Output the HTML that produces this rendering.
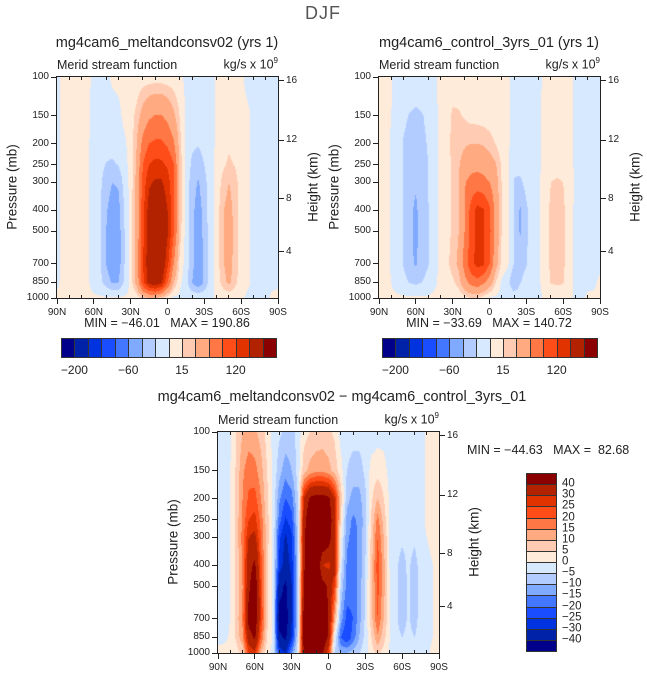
<!DOCTYPE html>
<html><head><meta charset="utf-8">
<style>
body{margin:0;background:#fff;}
#root{position:relative;width:647px;height:677px;overflow:hidden;background:#fff;font-family:"Liberation Sans",sans-serif;color:#222;}
.t{position:absolute;white-space:nowrap;line-height:1;}
canvas{position:absolute;}
.box{position:absolute;border:1px solid #222;box-sizing:border-box;}
.tick{position:absolute;background:#222;}
</style></head>
<body>
<div id="root">
<div class="t" style="left:305px;top:4px;font-size:18px;color:#555;letter-spacing:1px;">DJF</div>
</div>
<script>
// ---------- data ----------
const pLevels=[100,150,200,250,300,400,500,700,850,1000];
const lats=[90,85,80,75,70,65,60,55,50,45,40,35,30,25,20,15,10,5,0,-5,-10,-15,-20,-25,-30,-35,-40,-45,-50,-55,-60,-65,-70,-75,-80,-85,-90];
const latTickValues=[90,60,30,0,-30,-60,-90];
const latTickLabels=["90N","60N","30N","0","30S","60S","90S"];
const pTickValues=[100,150,200,250,300,400,500,700,850,1000];
const heightTickLabels=["16","12","8","4"];
const heightTickP=[104,193,356,619];
const levelsAbs=[-200,-150,-120,-90,-60,-30,-15,0,15,30,60,90,120,150,200];
const levelsAbsLabels=["-200","-60","15","120"];
const levelsDiff=[-40,-30,-25,-20,-15,-10,-5,0,5,10,15,20,25,30,40];
const levelsDiffLabels=["-40","-30","-25","-20","-15","-10","-5","0","5","10","15","20","25","30","40"];
const colors=["#00008a","#0022a8","#0033e0","#1a4dff","#4477ff","#80aaff","#b3ccff","#d6e9ff","#ffebd9","#ffccb3","#ffaa80","#ff7744","#ff4d1a","#e03300","#b32200","#8a0000"];

const field1=[
[-3,3,3,3,3,3,-3,-3,-3,2,3,3,4,5,6,6,6,6,5,4,3,-3,-3,-3,-3,-3,1,4,4,4,2,-3,-3,-3,-3,-3,-3],
[-3,3,3,3,3,2,-4,-5,-5,-5,-3,3,8,20,40,55,62,62,52,35,14,-2,-4,-5,-4,-3,1,4,5,5,3,2,-2,-3,-3,-3,-3],
[-3,3,3,3,3,2,-5,-7,-8,-8,-6,-2,5,30,70,90,95,95,85,65,20,-4,-12,-14,-10,-4,2,8,12,10,4,2,-2,-3,-3,-3,-3],
[-3,3,3,3,3,2,-5,-10,-16,-18,-14,-5,5,35,90,120,130,128,115,92,25,-5,-18,-22,-15,-5,3,12,18,14,5,2,-2,-3,-3,-3,-3],
[-3,3,3,3,3,2,-6,-12,-22,-30,-28,-8,5,38,100,145,155,155,135,95,25,-6,-22,-32,-20,-6,4,20,30,22,6,2,-2,-3,-3,-3,-3],
[-3,3,4,4,4,2,-6,-13,-28,-38,-36,-14,5,40,110,165,185,180,150,100,25,-6,-25,-38,-24,-6,5,28,38,24,6,2,-3,-4,-4,-4,-4],
[-3,3,4,4,4,2,-6,-13,-30,-40,-38,-15,5,40,110,170,188,185,155,95,22,-6,-25,-40,-25,-6,5,28,40,24,6,2,-3,-4,-4,-4,-4],
[-3,3,4,4,4,2,-6,-13,-30,-42,-38,-15,5,40,120,175,190,185,130,60,10,-6,-25,-42,-28,-6,5,28,38,24,6,2,-3,-4,-4,-4,-4],
[-2,3,4,4,4,2,-5,-10,-22,-32,-30,-12,5,40,110,165,180,160,90,30,3,-8,-30,-42,-28,-6,5,22,35,20,6,2,-2,-3,-3,-3,-2],
[2,2,2,2,2,2,2,2,2,2,2,2,2,5,20,30,30,20,5,-3,-3,-3,-3,-3,-3,-3,2,2,3,3,2,-2,-2,-3,-3,2,3]];
const field2=[
[3,3,1,-4,-5,-5,-5,-5,-4,-2,3,4,5,5,5,5,5,5,5,4,3,2,-3,-4,-4,-4,-3,3,4,4,4,3,-2,-3,-3,-3,-3],
[3,3,0,-6,-12,-16,-18,-16,-12,-4,3,6,18,17,13,9,8,7,6,5,3,2,-4,-5,-5,-4,-2,3,4,5,5,3,-2,-3,-3,-3,-3],
[3,3,-1,-8,-16,-20,-22,-18,-14,-4,3,8,20,22,27,30,30,28,22,14,6,2,-5,-6,-6,-4,-2,3,5,6,5,3,-2,-3,-3,-3,-3],
[3,3,-1,-8,-16,-24,-26,-20,-15,-4,3,8,18,28,42,50,52,50,42,32,12,2,-12,-10,-7,-4,-2,3,7,10,8,4,-2,-3,-3,-3,-3],
[3,3,-1,-8,-16,-25,-28,-20,-15,-4,3,8,18,30,58,70,72,68,60,40,14,2,-16,-18,-10,-5,-2,6,15,17,15,6,-2,-3,-3,-3,-3],
[3,3,-1,-8,-16,-26,-33,-22,-16,-4,3,8,18,30,62,100,130,122,95,50,14,2,-16,-32,-18,-6,-2,8,18,20,18,6,-3,-4,-4,-4,-4],
[3,3,-1,-8,-16,-26,-34,-22,-16,-4,3,8,18,30,62,100,132,125,98,50,14,2,-16,-32,-18,-6,-2,8,18,20,18,6,-3,-4,-4,-4,-4],
[3,3,-1,-8,-16,-26,-32,-22,-16,-4,3,10,22,35,75,110,130,125,90,40,10,2,-16,-20,-16,-6,-2,8,18,20,18,6,-3,-4,-4,-4,-4],
[3,3,0,-5,-10,-16,-18,-15,-10,-3,3,6,12,22,50,70,80,65,45,15,-3,-10,-30,-16,-10,-5,-2,5,16,18,16,4,-2,-3,-3,-3,3],
[2,2,2,2,2,2,2,2,2,3,3,3,3,4,10,15,15,8,-2,-3,-4,-4,-4,-4,-4,-4,-3,2,3,3,3,2,-2,-2,2,3,3]];
const field3=[
[-3,-3,-1,5,10,12,11,8,3,-2,-4,-6,-7,-3,3,5,6,7,6,4,-2,-3,-3,-3,-3,-3,-2,-2,-3,-3,-3,-3,-3,-2,1,2,2],
[-3,-2,0,6,14,18,17,12,5,-1,-8,-13,-10,-3,8,12,14,14,12,8,2,-5,-7,-7,-4,2,3,2,-2,-3,-3,-3,-3,-2,1,2,2],
[-3,-2,0,7,15,21,22,15,6,-1,-14,-20,-17,-5,30,42,44,44,42,30,8,-8,-12,-12,-6,4,10,5,-1,-3,-3,-3,-3,-2,1,2,1],
[-3,-2,0,7,16,25,27,18,7,-1,-18,-26,-22,-6,35,50,52,50,48,32,5,-12,-16,-14,-7,6,17,8,-1,-3,-3,-3,-3,-2,1,1,1],
[-3,-2,0,7,17,30,32,20,7,-1,-24,-31,-26,-7,38,52,55,52,46,30,2,-14,-17,-14,-6,7,20,10,-1,-3,-4,-3,-4,-2,0,1,1],
[-3,-2,0,6,16,36,42,22,6,-1,-26,-34,-28,-8,38,55,55,30,28,35,-2,-16,-17,-14,-5,8,23,12,-1,-4,-7,-4,-7,-3,-1,0,1],
[-3,-2,0,6,15,38,48,24,6,-1,-36,-42,-30,-8,40,56,55,45,38,25,-6,-17,-18,-13,-4,8,22,12,0,-4,-8,-4,-8,-3,-1,0,1],
[-3,-2,0,7,16,44,48,25,6,-1,-44,-46,-30,-8,45,58,56,50,40,12,-12,-22,-20,-12,-4,8,20,10,0,-4,-8,-4,-8,-2,-1,0,0],
[-3,-2,1,6,14,35,42,20,5,-1,-38,-42,-28,-5,45,55,55,50,38,0,-20,-25,-18,-10,-3,5,14,7,0,-3,-5,-3,-5,-2,-1,0,0],
[3,3,2,3,6,25,28,10,2,-2,-25,-30,-15,-2,42,50,48,42,25,-6,-10,-10,-8,-5,-2,3,6,3,-1,-2,-2,-2,-2,-2,-1,1,3]];

// ---------- drawing ----------
const root=document.getElementById('root');
function txt(name,s,x,y,size,opts){
  const d=document.createElement('div');
  d.className='t';
  
  
  d.innerHTML=s;
  d.style.fontSize=size+'px';
  d.style.left=x+'px';d.style.top=y+'px';
  let tf='';
  const a=(opts&&opts.align)||'left';
  if(a==='center')tf+='translate(-50%,-50%) ';
  else if(a==='right')tf+='translate(-100%,-50%) ';
  else tf+='translate(0,-50%) ';
  if(opts&&opts.rot)tf+='rotate('+opts.rot+'deg)';
  d.style.transform=tf;
  if(opts&&opts.color)d.style.color=opts.color;
  root.appendChild(d);return d;
}
function tick(name,x,y,w,h){
  const d=document.createElement('div');d.className='tick';
  
  
  d.style.left=x+'px';d.style.top=y+'px';d.style.width=w+'px';d.style.height=h+'px';
  root.appendChild(d);
}
function hexRgb(h){return [parseInt(h.substr(1,2),16),parseInt(h.substr(3,2),16),parseInt(h.substr(5,2),16)];}
const rgb=colors.map(hexRgb);

function panel(o){
  const W=221,H=221,X=o.x,Y=o.y;
  const xOf=lat=>X+(90-lat)/180*W;
  const yOf=p=>Y+Math.log10(p/100)*H;
  const cv=document.createElement('canvas');
  
  
  cv.width=W;cv.height=H;cv.style.left=X+'px';cv.style.top=Y+'px';
  root.appendChild(cv);
  const ctx=cv.getContext('2d');const img=ctx.createImageData(W,H);
  const lp=pLevels.map(p=>Math.log10(p));
  const f=o.field,lev=o.levels;
  for(let j=0;j<H;j++){
    const l=Math.log10(100)+(j+0.5)/H;
    let r=0;while(r<lp.length-2&&l>lp[r+1])r++;
    let ty=(l-lp[r])/(lp[r+1]-lp[r]);ty=Math.max(0,Math.min(1,ty));
    for(let i=0;i<W;i++){
      const lat=90-(i+0.5)/W*180;
      let fx=(lats[0]-lat)/(lats[0]-lats[lats.length-1])*(lats.length-1);
      let c=Math.min(lats.length-2,Math.floor(fx));let tx=fx-c;
      const v=(f[r][c]*(1-tx)+f[r][c+1]*tx)*(1-ty)+(f[r+1][c]*(1-tx)+f[r+1][c+1]*tx)*ty;
      let k=0;while(k<lev.length&&v>=lev[k])k++;
      const cc=rgb[k];const q=(j*W+i)*4;
      img.data[q]=cc[0];img.data[q+1]=cc[1];img.data[q+2]=cc[2];img.data[q+3]=255;
    }
  }
  ctx.putImageData(img,0,0);
  const b=document.createElement('div');b.className='box';
  
  
  b.style.left=(X-1)+'px';b.style.top=(Y-1)+'px';b.style.width=(W+2)+'px';b.style.height=(H+2)+'px';
  root.appendChild(b);
  // titles
  if(o.title)txt(o.key+'-title',o.title,o.titleX,o.titleY,14.5,{align:'center'});
  txt(o.key+'-left-subtitle','Merid stream function',X,Y-12,12.5);
  txt(o.key+'-units','kg/s x 10<sup style="font-size:8px">9</sup>',X+W,Y-13,12.5,{align:'right'});
  // pressure ticks
  pTickValues.forEach((p,i)=>{
    tick(o.key+'-y-tick',X-6,yOf(p)-0.5,6,1);
    txt(o.key+'-y-tick-label',String(p),X-8,yOf(p),10,{align:'right'});
  });
  txt(o.key+'-y-axis-title','Pressure (mb)',X-45,Y+110,13.5,{align:'center',rot:-90});
  heightTickP.forEach((p,i)=>{
    tick(o.key+'-height-tick',X+W,yOf(p)-0.5,6,1);
    txt(o.key+'-height-tick-label',heightTickLabels[i],X+W+8,yOf(p),10);
  });
  txt(o.key+'-height-axis-title','Height (km)',X+W+35,Y+110,13.5,{align:'center',rot:-90});
  latTickValues.forEach((lat,i)=>{
    tick(o.key+'-x-tick',xOf(lat)-0.5,Y+H,1,6);
    txt(o.key+'-x-tick-label',latTickLabels[i],xOf(lat),Y+H+15,10,{align:'center'});
  });
  for(let lat=80;lat>-90;lat-=10){ if(lat%30!==0){
    tick(o.key+'-x-minor-tick',xOf(lat)-0.5,Y+H-3,1,3);
    tick(o.key+'-top-minor-tick',xOf(lat)-0.5,Y,1,3);}}
}
function hbar(key,x,y,w,h){
  const bw=w/colors.length;
  colors.forEach((c,i)=>{
    const d=document.createElement('div');
    
    
    d.style.cssText='position:absolute;box-sizing:border-box;border:1px solid #333;left:'+(x+i*bw)+'px;top:'+y+'px;width:'+(bw+1)+'px;height:'+h+'px;background:'+c;
    root.appendChild(d);
  });
  const idx=[1,5,9,13];
  levelsAbsLabels.forEach((s,i)=>txt(key+'-label',s.replace('-','&minus;'),x+idx[i]*bw,y+h+12,12,{align:'center'}));
}

panel({key:'panel1',x:57,y:77,field:field1,levels:levelsAbs,title:'mg4cam6_meltandconsv02 (yrs 1)',titleX:167,titleY:43});
txt('panel1-minmax','MIN = &minus;46.01&nbsp;&nbsp; MAX = 190.86',167,323,12.5,{align:'center'});
hbar('panel1-colorbar',61,338,215,20);

panel({key:'panel2',x:379,y:77,field:field2,levels:levelsAbs,title:'mg4cam6_control_3yrs_01 (yrs 1)',titleX:489,titleY:43});
txt('panel2-minmax','MIN = &minus;33.69&nbsp;&nbsp; MAX = 140.72',489,323,12.5,{align:'center'});
hbar('panel2-colorbar',382,338,215,20);

panel({key:'panel3',x:218,y:432,field:field3,levels:levelsDiff,title:'mg4cam6_meltandconsv02 &minus; mg4cam6_control_3yrs_01',titleX:342,titleY:397});
txt('panel3-minmax','MIN = &minus;44.63&nbsp;&nbsp; MAX = &nbsp;82.68',467,450,12.5);
// vertical colorbar
(function(){
  const x=526,y=473,w=31,h=178,bh=h/colors.length;
  for(let i=0;i<colors.length;i++){
    const c=colors[colors.length-1-i];
    const d=document.createElement('div');
    
    
    d.style.cssText='position:absolute;box-sizing:border-box;border:1px solid #333;left:'+x+'px;top:'+(y+i*bh)+'px;width:'+w+'px;height:'+(bh+1)+'px;background:'+c;
    root.appendChild(d);
  }
  for(let k=0;k<levelsDiffLabels.length;k++){
    const s=levelsDiffLabels[levelsDiffLabels.length-1-k];
    txt('panel3-colorbar-label',s.replace('-','&minus;'),x+w+5,y+(k+1)*bh,11.5);
  }
})();
</script>
</body></html>
